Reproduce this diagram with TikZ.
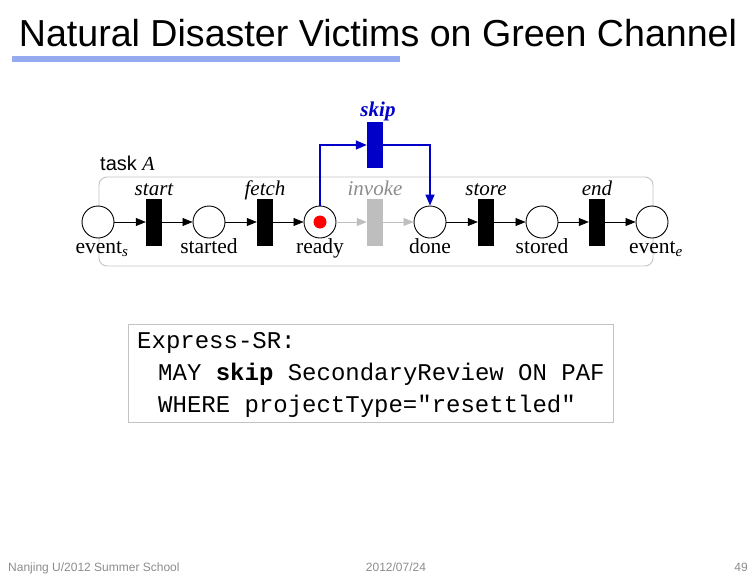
\documentclass[tikz,border=0pt]{standalone}
\usepackage{fontspec}
\setmainfont{Liberation Serif}
\newfontfamily\titlefont{Liberation Sans}
\newfontfamily\footfont{Liberation Sans}
\newfontfamily\codefont{Liberation Mono}
\usetikzlibrary{arrows.meta}
\definecolor{skipblue}{RGB}{0,0,200}
\definecolor{rulelight}{RGB}{150,170,240}
\definecolor{greyed}{RGB}{190,190,190}
\definecolor{greytext}{RGB}{140,140,140}
\definecolor{boxgrey}{RGB}{195,195,195}
\begin{document}
\begin{tikzpicture}[x=1pt,y=-1pt,
  place/.style={circle,draw,line width=0.9pt,minimum size=32pt,inner sep=0pt,fill=white},
  trans/.style={rectangle,fill=black,minimum width=16pt,minimum height=47pt,inner sep=0pt},
  flow/.style={-{Triangle[length=10pt,width=8pt]},line width=0.6pt},
  greyflow/.style={flow,draw=greyed,-{Triangle[length=10pt,width=8pt,fill=greyed]}},
  blueflow/.style={-{Triangle[length=11pt,width=9pt]},draw=skipblue,line width=1.4pt},
  tlabel/.style={font=\fontsize{21}{21}\selectfont\itshape,anchor=base},
  plabel/.style={font=\fontsize{21.5}{21.5}\selectfont,anchor=base},
  codeline/.style={font=\codefont\fontsize{24}{24}\selectfont,anchor=base west,inner sep=0pt},
  foot/.style={font=\footfont\fontsize{12}{12}\selectfont,text=greytext,anchor=base,inner sep=0pt}]
\useasboundingbox (0,0) rectangle (756,576);
% title
\node[font=\titlefont\fontsize{37.6}{37.6}\selectfont,anchor=base,inner sep=0pt] (title) at (378,46) {Natural Disaster Victims on Green Channel};
\fill[rulelight] (12,56) rectangle (400,62);
% task box
\draw[boxgrey,line width=0.9pt,rounded corners=8pt] (99,177) rectangle (653,266);
\node[font=\fontsize{20}{20}\selectfont,anchor=base west,inner sep=0pt] (task) at (100,170) {\titlefont task \rmfamily\itshape A};
% places
\node[place] (evs) at (98,222) {};
\node[place] (started) at (209,222) {};
\node[place] (ready) at (320,222) {};
\node[place] (done) at (430,222) {};
\node[place] (stored) at (542,222) {};
\node[place] (eve) at (652,222) {};
\fill[red] (ready) circle (6.5pt);
% transitions
\node[trans] (start) at (154,222) {};
\node[trans] (fetch) at (265,222) {};
\node[trans,fill=greyed] (invoke) at (375,222) {};
\node[trans] (store) at (486,222) {};
\node[trans] (end) at (597,222) {};
\node[trans,fill=skipblue,minimum height=46pt] (skip) at (375,145) {};
% transition labels
\node[tlabel] (lstart) at (154,195) {start};
\node[tlabel] (lfetch) at (265,195) {fetch};
\node[tlabel,text=greytext] (linvoke) at (375,195) {invoke};
\node[tlabel] (lstore) at (486,195) {store};
\node[tlabel] (lend) at (597,195) {end};
\node[tlabel,font=\fontsize{21}{21}\selectfont\bfseries\itshape,text=skipblue] (lskip) at (378,116) {skip};
% place labels
\node[plabel] (levs) at (102,253) {event\textsubscript{\itshape s}};
\node[plabel] (lstarted) at (209,253) {started};
\node[plabel] (lready) at (320,253) {ready};
\node[plabel] (ldone) at (430,253) {done};
\node[plabel] (lstored) at (542,253) {stored};
\node[plabel] (leve) at (656,253) {event\textsubscript{\itshape e}};
% arcs
\draw[flow] (evs) -- (start);
\draw[flow] (start) -- (started);
\draw[flow] (started) -- (fetch);
\draw[flow] (fetch) -- (ready);
\draw[greyflow] (ready) -- (invoke);
\draw[greyflow] (invoke) -- (done);
\draw[flow] (done) -- (store);
\draw[flow] (store) -- (stored);
\draw[flow] (stored) -- (end);
\draw[flow] (end) -- (eve);
\draw[blueflow] (ready.north) |- (skip.west);
\draw[blueflow] (skip.east) -| (done.north);
% code box
\draw[boxgrey,line width=0.9pt] (128,324) rectangle (613,422);
\node[codeline] (c1) at (137,348) {Express-SR:};
\node[codeline] (c2) at (158,380) {MAY \textbf{skip} SecondaryReview ON PAF};
\node[codeline] (c3) at (158,412) {WHERE projectType="resettled"};
% footer
\node[foot,anchor=base west] (f1) at (8,571) {Nanjing U/2012 Summer School};
\node[foot] (f2) at (396,571) {2012/07/24};
\node[foot,anchor=base east] (f3) at (748,571) {49};
\end{tikzpicture}
\end{document}
